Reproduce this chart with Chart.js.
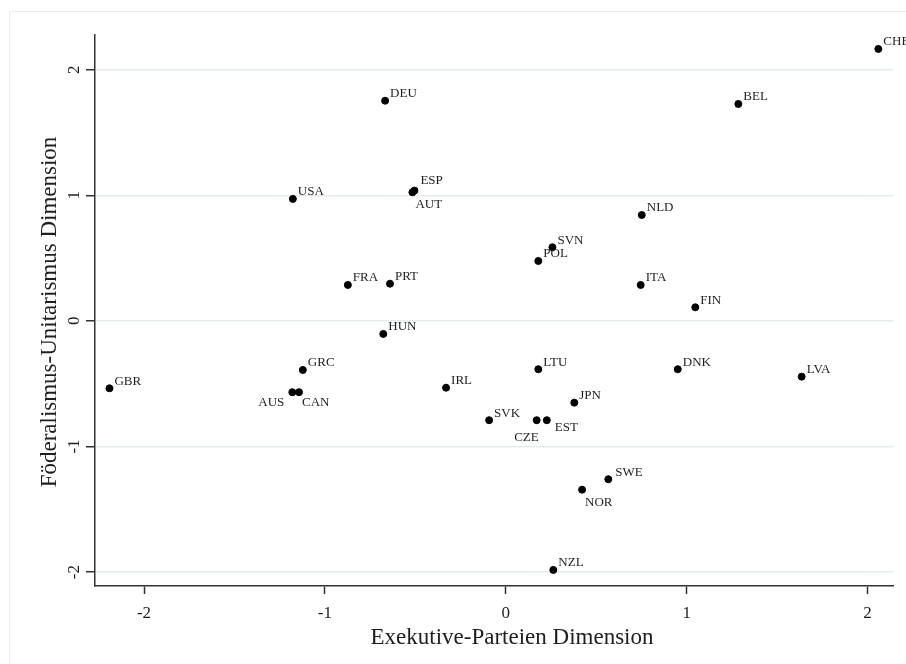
<!DOCTYPE html>
<html>
<head>
<meta charset="utf-8">
<script src="https://cdn.jsdelivr.net/npm/chart.js@4.4.1/dist/chart.umd.min.js"></script>
<style>
  html, body { margin: 0; padding: 0; background: #ffffff; }
  canvas { display: block; }
</style>
</head>
<body>
<canvas id="chart" width="906" height="664"></canvas>
<script>
// Country codes and their scores on the two dimensions
const countries = ['CHE','DEU','BEL','USA','ESP','AUT','NLD','SVN','POL','FRA',
                   'PRT','ITA','FIN','HUN','GRC','GBR','AUS','CAN','IRL','LTU',
                   'DNK','LVA','JPN','SVK','CZE','EST','SWE','NOR','NZL'];
// Exekutive-Parteien Dimension
const executiveParty = [2.06, -0.667, 1.286, -1.177, -0.505, -0.516, 0.752, 0.258, 0.18, -0.873,
                        -0.64, 0.746, 1.048, -0.677, -1.122, -2.191, -1.18, -1.143, -0.33, 0.18,
                        0.951, 1.636, 0.379, -0.092, 0.171, 0.227, 0.567, 0.422, 0.263];
// Föderalismus-Unitarismus Dimension
const federalUnitary = [2.165, 1.753, 1.727, 0.971, 1.037, 1.024, 0.843, 0.586, 0.477, 0.286,
                        0.296, 0.286, 0.108, -0.104, -0.391, -0.537, -0.568, -0.568, -0.532, -0.385,
                        -0.385, -0.444, -0.651, -0.791, -0.791, -0.791, -1.261, -1.344, -1.983];

const xTickValues = [-2, -1, 0, 1, 2];
const yTickValues = [-2, -1, 0, 1, 2];

const xTitle = 'Exekutive-Parteien Dimension';
const yTitle = 'Föderalismus-Unitarismus Dimension';

// Label placement for crowded points (default: upper right of the marker)
const labelPlacement = {
  ESP: { dx: 6, dy: -10, align: 'left' },
  AUT: { dx: 3, dy: 12, align: 'left' },
  AUS: { dx: -8, dy: 10, align: 'right' },
  CAN: { dx: 3, dy: 10, align: 'left' },
  CZE: { dx: 2, dy: 17, align: 'right' },
  EST: { dx: 8, dy: 7, align: 'left' },
  NOR: { dx: 3, dy: 13, align: 'left' },
  SWE: { dx: 7, dy: -7, align: 'left' }
};
const defaultPlacement = { dx: 5, dy: -7, align: 'left' };

const SERIF = "'Liberation Serif', 'Times New Roman', serif";
const INK = '#1e1e1e';
const AXIS = '#333333';

const points = countries.map((c, i) => ({ x: executiveParty[i], y: federalUnitary[i] }));

// Faint outer frame around the figure
const framePlugin = {
  id: 'frame',
  beforeDraw(chart) {
    const ctx = chart.ctx;
    ctx.save();
    ctx.strokeStyle = '#ececec';
    ctx.lineWidth = 1;
    ctx.beginPath();
    ctx.moveTo(9.5, chart.height);
    ctx.lineTo(9.5, 11.5);
    ctx.lineTo(chart.width, 11.5);
    ctx.stroke();
    ctx.restore();
  }
};

// Country labels next to each marker
const pointLabelPlugin = {
  id: 'pointLabels',
  afterDatasetsDraw(chart) {
    const ctx = chart.ctx;
    const meta = chart.getDatasetMeta(0);
    ctx.save();
    ctx.font = '13px ' + SERIF;
    ctx.fillStyle = INK;
    ctx.textBaseline = 'middle';
    meta.data.forEach((el, i) => {
      const name = countries[i];
      const p = labelPlacement[name] || defaultPlacement;
      ctx.textAlign = p.align;
      ctx.fillText(name, el.x + p.dx, el.y + p.dy);
    });
    ctx.restore();
  }
};

// Rotated y tick labels and both axis titles
const axisTextPlugin = {
  id: 'axisText',
  afterDraw(chart) {
    const ctx = chart.ctx;
    const ys = chart.scales.y;
    ctx.save();
    ctx.fillStyle = INK;
    ctx.textAlign = 'center';
    ctx.textBaseline = 'middle';
    ctx.font = '17px ' + SERIF;
    ys.ticks.forEach(t => {
      const py = ys.getPixelForValue(t.value);
      ctx.save();
      ctx.translate(75, py);
      ctx.rotate(-Math.PI / 2);
      ctx.fillText(String(t.value), 0, 0);
      ctx.restore();
    });
    ctx.font = '23px ' + SERIF;
    ctx.save();
    ctx.translate(50, 312);
    ctx.rotate(-Math.PI / 2);
    ctx.fillText(yTitle, 0, 0);
    ctx.restore();
    ctx.fillText(xTitle, 512, 638);
    ctx.restore();
  }
};

new Chart(document.getElementById('chart'), {
  type: 'scatter',
  data: {
    datasets: [{
      data: points,
      backgroundColor: '#000000',
      borderColor: '#000000',
      pointRadius: 3.5,
      pointHoverRadius: 3.5
    }]
  },
  options: {
    responsive: false,
    animation: false,
    devicePixelRatio: 1,
    layout: { padding: { top: 35, right: 13, left: 0, bottom: 0 } },
    plugins: { legend: { display: false }, tooltip: { enabled: false } },
    scales: {
      x: {
        type: 'linear',
        min: -2.271,
        max: 2.141,
        afterBuildTicks: s => { s.ticks = xTickValues.map(v => ({ value: v })); },
        afterFit: s => { s.height = 78; },
        grid: { drawOnChartArea: false, drawTicks: true, tickLength: 8, tickColor: AXIS, tickWidth: 1.5 },
        border: { color: AXIS, width: 1.5 },
        ticks: {
          font: { family: SERIF, size: 17 },
          color: INK,
          padding: 9,
          maxRotation: 0,
          callback: v => String(v)
        }
      },
      y: {
        type: 'linear',
        min: -2.111,
        max: 2.276,
        afterBuildTicks: s => { s.ticks = yTickValues.map(v => ({ value: v })); },
        afterFit: s => { s.width = 95; },
        grid: { color: '#e4ecee', lineWidth: 1.5, drawTicks: true, tickLength: 9, tickColor: AXIS, tickWidth: 1.5 },
        border: { color: AXIS, width: 1.5 },
        ticks: { display: false }
      }
    }
  },
  plugins: [framePlugin, pointLabelPlugin, axisTextPlugin]
});
</script>
</body>
</html>
